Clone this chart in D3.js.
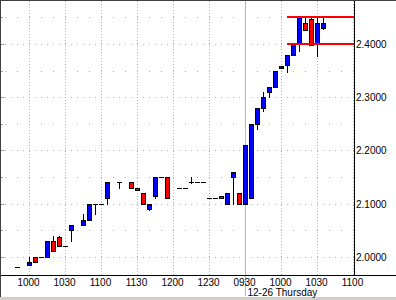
<!DOCTYPE html>
<html>
<head>
<meta charset="utf-8">
<script src="https://cdn.jsdelivr.net/npm/d3@7"></script>
<style>
html,body{margin:0;padding:0;background:#fff;}
svg{display:block;}
text{font-family:"Liberation Sans",Arial,sans-serif;font-size:10px;fill:#000;}
</style>
</head>
<body>
<svg width="396" height="300"></svg>
<script>
// bar slots (day 1 = 12-25, day 2 = 12-26 Thursday)
var barTimes = ['1|0950','1|1000','1|1005','1|1010','1|1015','1|1020','1|1025','1|1030','1|1035','1|1045','1|1050','1|1055','1|1100','1|1105','1|1115','1|1125','1|1130','1|1135','1|1140','1|1145','1|1150','1|1155','1|1205','1|1210','1|1215','1|1220','1|1225','1|1230','1|1235','1|1240','1|1245','1|1250','1|1255',
  '2|0930','2|0935','2|0940','2|0945','2|0950','2|0955','2|1000','2|1005','2|1010','2|1015','2|1020','2|1025','2|1030','2|1035'];
var opens  = [1.98,1.985,2.00,2.00,2.00,2.03,2.038,2.02,2.05,2.06,2.07,2.10,2.10,2.11,2.14,2.14,2.13,2.12,2.09,2.115,2.15,2.15,2.13,2.13,2.14,2.14,2.14,2.11,2.11,2.115,2.10,2.15,2.12,
  2.10,2.11,2.25,2.28,2.31,2.32,2.354,2.36,2.38,2.40,2.44,2.447,2.40,2.43];
var highs  = [1.98,2.00,2.00,2.00,2.03,2.04,2.04,2.02,2.06,2.08,2.10,2.10,2.10,2.14,2.14,2.14,2.13,2.12,2.10,2.15,2.15,2.15,2.13,2.13,2.15,2.14,2.14,2.11,2.11,2.115,2.12,2.16,2.12,
  2.21,2.25,2.28,2.31,2.32,2.35,2.358,2.38,2.40,2.45,2.45,2.45,2.45,2.45];
var lows   = [1.98,1.985,1.99,2.00,2.00,2.01,2.02,2.02,2.03,2.06,2.07,2.08,2.10,2.10,2.13,2.13,2.125,2.10,2.088,2.11,2.15,2.11,2.13,2.13,2.138,2.14,2.14,2.11,2.11,2.11,2.10,2.10,2.10,
  2.10,2.11,2.24,2.275,2.30,2.32,2.354,2.348,2.38,2.387,2.427,2.3975,2.378,2.4275];
var closes = [1.98,1.99,1.99,2.00,2.03,2.01,2.02,2.02,2.06,2.07,2.10,2.10,2.10,2.14,2.14,2.13,2.125,2.10,2.10,2.15,2.15,2.11,2.13,2.13,2.14,2.14,2.14,2.11,2.11,2.11,2.12,2.16,2.10,
  2.21,2.25,2.28,2.30,2.32,2.35,2.358,2.38,2.40,2.45,2.427,2.3975,2.44,2.44];

var majorTicks = [2.0,2.1,2.2,2.3,2.4];
var minorTicks = [2.05,2.15,2.25,2.35,2.45];
var timeLabels = ['1|1000','1|1030','1|1100','1|1130','1|1200','1|1230','2|0930','2|1000','2|1030','2|1100'];
var dayLabel = '12-26 Thursday';
var levelLines = [2.45,2.40];
var levelStart = '2|1005';

// slots every 5 minutes over both sessions
function sessionSlots(day, from, to){
  var out = [];
  for (var m = from; m <= to; m += 5){
    var h = Math.floor(m/60), mm = m%60;
    out.push(day+'|'+(h<10?'0':'')+h+(mm<10?'0':'')+mm);
  }
  return out;
}
var slots = sessionSlots(1, 9*60+35, 12*60+55).concat(sessionSlots(2, 9*60+30, 11*60));

var L = 1, R = 354, T = 1, B = 275;
var svg = d3.select('svg');

var x = d3.scaleBand().domain(slots).range([-3.5, -3.5 + slots.length*6]);
var cx = function(s){ return x(s) + x.bandwidth()/2; };
var y = d3.scaleLinear().domain([2.0, 2.4]).range([256.8, 44]);
var py = function(v){ return Math.round(y(v)) + 0.5; };

svg.append('rect').attr('x',0).attr('y',0).attr('width',396).attr('height',300).attr('fill','#fff');
svg.append('rect').attr('x',0).attr('y',297).attr('width',396).attr('height',3).attr('fill','#d4d0c8');

svg.append('clipPath').attr('id','plot').append('rect')
  .attr('x',L).attr('y',T).attr('width',R-L).attr('height',B-T);

var grid = svg.append('g');
// horizontal grid
grid.selectAll('.hmaj').data(majorTicks).enter().append('line')
  .attr('x1',5).attr('x2',R).attr('y1',py).attr('y2',py)
  .attr('stroke','#b4b4b4').attr('stroke-dasharray','1,5');
grid.selectAll('.hmin').data(minorTicks).enter().append('line')
  .attr('x1',5).attr('x2',R).attr('y1',py).attr('y2',py)
  .attr('stroke','#b4b4b4').attr('stroke-dasharray','1,11');
grid.selectAll('.tmaj').data(majorTicks).enter().append('line')
  .attr('x1',L).attr('x2',L+3).attr('y1',py).attr('y2',py).attr('stroke','#a0a0a0');
grid.selectAll('.tmin').data(minorTicks).enter().append('line')
  .attr('x1',L).attr('x2',L+2).attr('y1',py).attr('y2',py).attr('stroke','#a0a0a0');

// vertical grid
var vx = function(s){ return Math.floor(cx(s)) + 0.5; };
grid.selectAll('.v').data(timeLabels.filter(function(s){ return s !== '2|0930'; })).enter().append('line')
  .attr('x1',vx).attr('x2',vx).attr('y1',T).attr('y2',B)
  .attr('stroke','#b4b4b4').attr('stroke-dasharray','1,2');
grid.append('line').attr('x1',vx('2|0930')).attr('x2',vx('2|0930')).attr('y1',T).attr('y2',296)
  .attr('stroke','#b8b8b8');

// candles
var bars = barTimes.map(function(t,i){ return {t:t,o:opens[i],h:highs[i],l:lows[i],c:closes[i]}; });
var g = svg.append('g').attr('clip-path','url(#plot)');

g.selectAll('.wick').data(bars.filter(function(d){ return d.h !== d.l; })).enter().append('line')
  .attr('x1',function(d){ return vx(d.t); }).attr('x2',function(d){ return vx(d.t); })
  .attr('y1',function(d){ return Math.round(y(d.h)); }).attr('y2',function(d){ return Math.round(y(d.l)) + 1; })
  .attr('stroke','#000');

g.selectAll('.doji').data(bars.filter(function(d){ return d.o === d.c; })).enter().append('line')
  .attr('x1',function(d){ return Math.floor(cx(d.t)) - 2; }).attr('x2',function(d){ return Math.floor(cx(d.t)) + 3; })
  .attr('y1',function(d){ return py(d.o); }).attr('y2',function(d){ return py(d.o); })
  .attr('stroke','#000');

g.selectAll('.body').data(bars.filter(function(d){ return d.o !== d.c; })).enter().append('rect')
  .attr('x',function(d){ return Math.floor(cx(d.t)) - 1.5; })
  .attr('width',4)
  .attr('y',function(d){ return py(Math.max(d.o,d.c)); })
  .attr('height',function(d){ return Math.max(1, Math.round(y(Math.min(d.o,d.c))) - Math.round(y(Math.max(d.o,d.c)))); })
  .attr('fill',function(d){ return d.c > d.o ? '#0000ff' : '#ff0000'; })
  .attr('stroke','#000');

// level lines
g.selectAll('.level').data(levelLines).enter().append('line')
  .attr('x1',Math.floor(cx(levelStart))).attr('x2',R)
  .attr('y1',function(d){ return Math.round(y(d)); }).attr('y2',function(d){ return Math.round(y(d)); })
  .attr('stroke','#ff0000').attr('stroke-width',2);

// axes
svg.append('line').attr('x1',R+0.5).attr('x2',R+0.5).attr('y1',0).attr('y2',B+1).attr('stroke','#000');
svg.append('line').attr('x1',0).attr('x2',396).attr('y1',B+0.5).attr('y2',B+0.5).attr('stroke','#000');
svg.append('line').attr('x1',0.5).attr('x2',0.5).attr('y1',0).attr('y2',297).attr('stroke','#404040');
svg.append('line').attr('x1',0).attr('x2',396).attr('y1',0.5).attr('y2',0.5).attr('stroke','#404040');

svg.selectAll('.ylab').data(majorTicks).enter().append('text')
  .attr('x',R+2).attr('y',function(d){ return Math.round(y(d)) + 4; })
  .text(function(d){ return d3.format('.4f')(d); });

svg.selectAll('.xlab').data(timeLabels).enter().append('text')
  .attr('x',function(d){ return cx(d) - 1; }).attr('y',286)
  .attr('text-anchor','middle')
  .text(function(d){ return d.split('|')[1]; });

svg.append('text').attr('x',vx('2|0930') + 2).attr('y',295.5).text(dayLabel);
</script>
</body>
</html>
